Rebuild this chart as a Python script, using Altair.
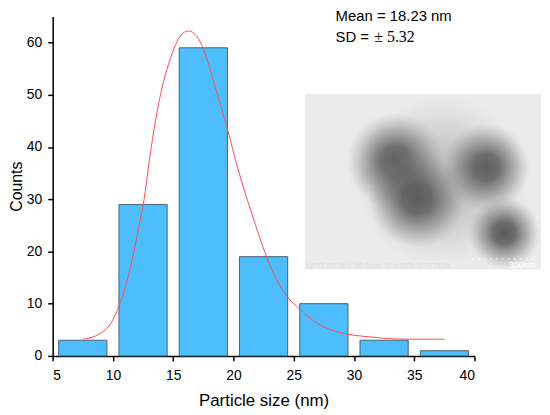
import altair as alt
import pandas as pd

# Histogram data
bin_centers = [7.5, 12.5, 17.5, 22.5, 27.5, 32.5, 37.5]
counts = [3, 29, 59, 19, 10, 3, 1]

# Fitted (log-normal) curve
fit_x = [7.5, 8.87, 9.69, 10.52, 11.34, 12.16, 12.58, 12.99, 13.54, 14.09, 14.63,
         15.32, 15.8, 16.28, 17.1, 17.66, 18.48, 19.44, 20.4, 21.5, 22.73, 23.6,
         24.4, 25.5, 26.85, 28.8, 31.5, 34.3, 37.5]
fit_y = [3.2, 4.2, 5.8, 9.6, 15.9, 24.8, 29.9, 36.9, 45.1, 51.5, 56.0,
         60.2, 61.8, 62.2, 60.7, 57.8, 51.5, 43.9, 35.6, 27.4, 19.1, 14.5,
         11.5, 9.0, 6.4, 4.5, 3.6, 3.2, 3.2]

x_ticks = [5 + 2.5 * i for i in range(15)]
y_ticks = [5 * i for i in range(14)]

FONT = "Liberation Sans"
W, H = 425, 342

bars_df = pd.DataFrame({"center": bin_centers, "count": counts})
fit_df = pd.DataFrame({"x": fit_x, "y": fit_y})

xscale = alt.Scale(domain=[5, 40], nice=False)
yscale = alt.Scale(domain=[0, 65], nice=False)

xaxis = alt.Axis(
    values=x_ticks,
    labelExpr="datum.value % 5 === 0 ? datum.label : ''",
    tickSize={"condition": {"test": "datum.value % 5 === 0", "value": 5}, "value": 3},
    domainColor="black", tickColor="black", domainWidth=1.5, tickWidth=1.5,
    grid=False, labelFont=FONT, labelFontSize=14, labelColor="black", labelPadding=8,
    title="Particle size (nm)", titleFont=FONT, titleFontSize=17,
    titleFontWeight="normal", titleColor="black",
    titleX=W / 2, titleY=45, titleBaseline="middle", titleAlign="center",
)
yaxis = alt.Axis(
    values=y_ticks,
    labelExpr="datum.value % 10 === 0 ? datum.label : ''",
    tickSize={"condition": {"test": "datum.value % 10 === 0", "value": 5}, "value": 3},
    domainColor="black", tickColor="black", domainWidth=1.5, tickWidth=1.5,
    grid=False, labelFont=FONT, labelFontSize=14, labelColor="black", labelPadding=6,
    title="Counts", titleFont=FONT, titleFontSize=16, titleFontWeight="normal",
    titleColor="black", titleX=-36, titleY=H / 2, titleAngle=270,
    titleBaseline="middle", titleAlign="center",
)

bars = alt.Chart(bars_df).transform_calculate(
    x0="datum.center - 2", x1="datum.center + 2"
).mark_rect(fill="#4dbdfd", stroke="#4a6272", strokeWidth=1).encode(
    x=alt.X("x0:Q", scale=xscale, axis=xaxis),
    x2="x1:Q",
    y=alt.Y("count:Q", scale=yscale, axis=yaxis),
    y2=alt.datum(0),
)

fit = alt.Chart(fit_df).mark_line(color="#ff4d4d", strokeWidth=1, interpolate="monotone").encode(
    x=alt.X("x:Q", scale=xscale),
    y=alt.Y("y:Q", scale=yscale),
)

one = alt.Data(values=[{"a": 1}])

# Inset micrograph placeholder (page coords minus plot origin 53,15)
inset_bg = alt.Chart(one).mark_rect(fill="#ebebeb").encode(
    x=alt.value(254), x2=alt.value(492), y=alt.value(78), y2=alt.value(255)
)

def blob(cx, cy, size, alpha):
    grad = alt.RadialGradient(
        gradient="radial", x1=0.5, y1=0.5, r1=0, x2=0.5, y2=0.5, r2=0.5,
        stops=[alt.GradientStop(offset=0, color=f"rgba(75,75,75,{alpha})"),
               alt.GradientStop(offset=0.3, color=f"rgba(80,80,80,{alpha * 0.9:.2f})"),
               alt.GradientStop(offset=0.65, color=f"rgba(100,100,100,{alpha * 0.45:.2f})"),
               alt.GradientStop(offset=0.98, color="rgba(140,140,140,0)"),
               alt.GradientStop(offset=1, color="rgba(140,140,140,0)")],
    )
    h = size / 2
    return alt.Chart(one).mark_rect(fill=grad).encode(
        x=alt.value(cx - h), x2=alt.value(cx + h), y=alt.value(cy - h), y2=alt.value(cy + h)
    )

haze = blob(392, 166, 176, 0.3)
blob1 = blob(345, 146, 100, 0.85)
blob2 = blob(367, 184, 100, 0.85)
blob3 = blob(437, 152, 90, 0.85)
blob4 = blob(455, 218, 74, 0.9)

scale_bar = alt.Chart(one).mark_rule(color="white", strokeWidth=1.5, strokeDash=[1, 5]).encode(
    x=alt.value(417), x2=alt.value(487), y=alt.value(244)
)
caption = alt.Chart(one).mark_text(
    text="UPIT 25.0kV 10.3mm M-x200k BFSTEM", font=FONT, fontSize=8,
    color="#dcdcdc", align="left", baseline="alphabetic"
).encode(x=alt.value(256), y=alt.value(253))
nm300 = alt.Chart(one).mark_text(
    text="300nm", font=FONT, fontSize=9, color="white", align="right",
    baseline="alphabetic"
).encode(x=alt.value(487), y=alt.value(253))

mean_txt = alt.Chart(one).mark_text(
    text="Mean = 18.23 nm", font=FONT, fontSize=15, color="black",
    align="left", baseline="alphabetic"
).encode(x=alt.value(285), y=alt.value(4.5))
sd_txt = alt.Chart(one).mark_text(
    text="SD = ", font=FONT, fontSize=15, color="black",
    align="left", baseline="alphabetic"
).encode(x=alt.value(285), y=alt.value(25.5))
sd_val = alt.Chart(one).mark_text(
    text="± 5.32", font="Liberation Serif", fontSize=16, color="black",
    align="left", baseline="alphabetic"
).encode(x=alt.value(324), y=alt.value(25.5))

chart = alt.layer(
    bars, fit, inset_bg, haze, blob1, blob2, blob3, blob4, scale_bar, caption, nm300,
    mean_txt, sd_txt, sd_val
).properties(
    width=W, height=H,
    autosize=alt.AutoSizeParams(type="none"),
    padding={"left": 45, "top": 7, "right": 68, "bottom": 56},
    background="white",
).configure_view(stroke=None)

chart.save("out.html", embed_options={"renderer": "svg", "actions": False})
